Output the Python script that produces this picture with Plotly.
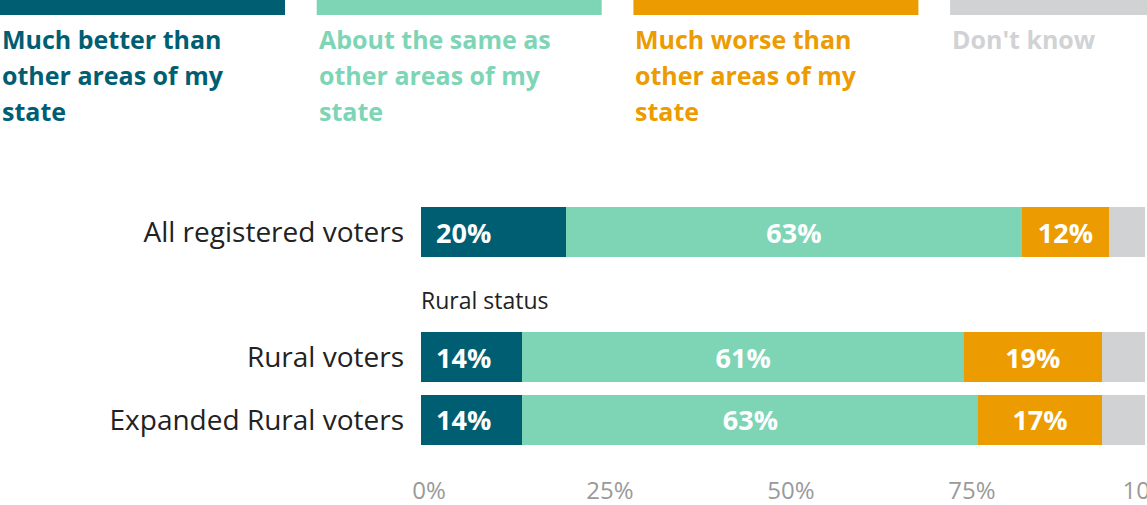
import plotly.graph_objects as go

categories = ["All registered voters", "Rural voters", "Expanded Rural voters"]
y_pos = [0, 2, 3]
series_names = ["Much better than<br>other areas of my<br>state",
                "About the same as<br>other areas of my<br>state",
                "Much worse than<br>other areas of my<br>state",
                "Don't know"]
much_better = [20, 14, 14]
about_same = [63, 61, 63]
much_worse = [12, 19, 17]
dont_know = [5, 6, 6]
colors = ["#005E73", "#7DD5B6", "#EC9B00", "#D1D2D4"]
tick_vals = [0, 25, 50, 75, 100]
tick_text = ["0%", "25%", "50%", "75%", "100%"]
group_heading = "Rural status"

FONT = "Open Sans"
W, H = 1147, 505
L, R, T, B = 421, 2, 201, 54
PW, PH = W - L - R, H - T - B


def px_x(px):
    return (px - L) / PW


def px_y(py):
    return (H - B - py) / PH


fig = go.Figure()
all_series = [much_better, about_same, much_worse, dont_know]
for i, (name, vals) in enumerate(zip(series_names, all_series)):
    fig.add_trace(go.Bar(
        x=vals, y=y_pos, orientation="h", name=name.replace("<br>", " "),
        marker=dict(color=colors[i], line=dict(width=0)),
        width=0.8,
        text=[f"{v}%" for v in vals] if i in (1, 2) else None,
        textposition="inside", insidetextanchor="middle",
        textfont=dict(family=FONT, size=27, color="white", weight="bold"),
        hoverinfo="skip",
    ))

# first-series labels, left aligned inside the bar
for yv, v in zip(y_pos, much_better):
    fig.add_annotation(x=0, y=yv, xref="x", yref="y", xanchor="left", yanchor="middle",
                       xshift=13, text=f"{v}%", showarrow=False,
                       font=dict(family=FONT, size=27, color="white", weight="bold"))

# legend made of colored strips with wrapped text
item_w = 316.7
for i, name in enumerate(series_names):
    x0 = i * item_w
    fig.add_shape(type="rect", xref="paper", yref="paper",
                  x0=px_x(x0), x1=px_x(x0 + 285), y0=px_y(15), y1=px_y(-2),
                  fillcolor=colors[i], line=dict(width=0), layer="above")
    for j, line in enumerate(name.split("<br>")):
        fig.add_annotation(xref="paper", yref="paper", x=px_x(x0),
                           y=px_y(39 + 36 * j), xanchor="left", yanchor="middle",
                           text=line, showarrow=False, align="left",
                           font=dict(family=FONT, size=25, color=colors[i], weight="bold"))

fig.add_annotation(x=0, y=1.08, xref="x", yref="y", xanchor="left", yanchor="middle",
                   xshift=-2, text=group_heading, showarrow=False,
                   font=dict(family=FONT, size=23, color="#222222"))

fig.update_layout(
    barmode="stack", width=W, height=H,
    margin=dict(l=L, r=R, t=T, b=B, autoexpand=False),
    plot_bgcolor="white", paper_bgcolor="white", showlegend=False,
    xaxis=dict(range=[0, 100], tickvals=tick_vals, ticktext=tick_text,
               showgrid=False, zeroline=False, showline=False, ticks="",
               ticklabelstandoff=23, ticklabelshift=8, ticklabeloverflow="allow",
               tickfont=dict(family=FONT, size=24, color="#9A9A9A")),
    yaxis=dict(range=[3.5, -0.5], tickvals=y_pos, ticktext=categories,
               showgrid=False, zeroline=False, showline=False, ticks="",
               ticklabelstandoff=16,
               tickfont=dict(family=FONT, size=28, color="#222222")),
)
fig.write_html("out.html", config={"displayModeBar": False},
               post_script="document.documentElement.style.margin='0';"
                           "document.body.style.margin='0';"
                           "document.body.style.overflow='hidden';")
